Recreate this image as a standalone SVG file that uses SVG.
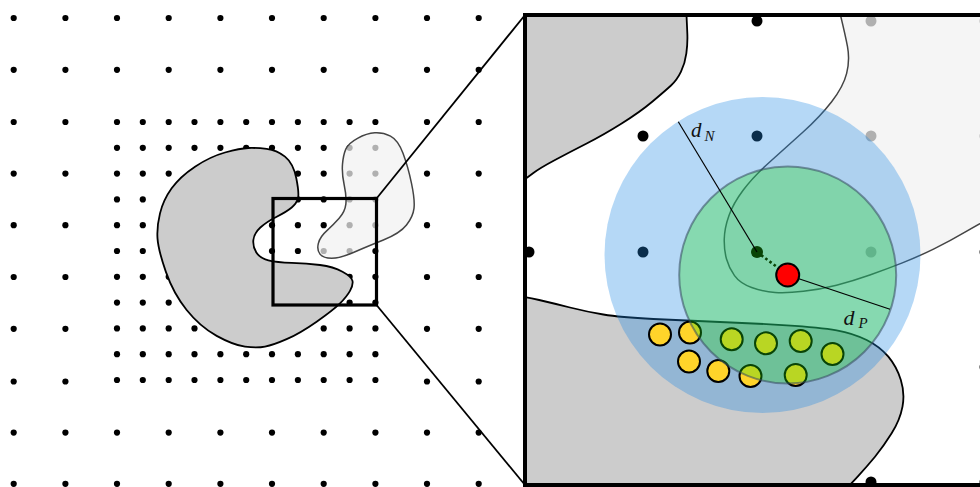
<svg xmlns="http://www.w3.org/2000/svg" xmlns:xlink="http://www.w3.org/1999/xlink" width="980" height="487" viewBox="0 0 980 487">
  <style>
    .dot { fill: #000; }
    .dark { fill: #cccccc; stroke: #000; stroke-width: 1.8; }
    .light { fill: #f1f1f1; fill-opacity: 0.73; stroke: #444; stroke-width: 1.5; }
    .conn { stroke: #000; stroke-width: 1.8; fill: none; }
    .small { fill: #ffd42a; stroke: #000; stroke-width: 2; }
    .math { font-family: "Liberation Serif", "DejaVu Serif", serif; font-style: italic; fill: #111; }
  </style>
  <defs>
    <!-- coarse grid row: 10 dots -->
    <g id="crow">
      <circle class="dot" cx="13.7" cy="0" r="3.1"/>
      <circle class="dot" cx="65.4" cy="0" r="3.1"/>
      <circle class="dot" cx="117" cy="0" r="3.1"/>
      <circle class="dot" cx="168.7" cy="0" r="3.1"/>
      <circle class="dot" cx="220.4" cy="0" r="3.1"/>
      <circle class="dot" cx="272" cy="0" r="3.1"/>
      <circle class="dot" cx="323.7" cy="0" r="3.1"/>
      <circle class="dot" cx="375.4" cy="0" r="3.1"/>
      <circle class="dot" cx="427" cy="0" r="3.1"/>
      <circle class="dot" cx="478.7" cy="0" r="3.1"/>
    </g>
    <!-- outer coarse dots beside the refined block -->
    <g id="orow">
      <circle class="dot" cx="13.7" cy="0" r="3.1"/>
      <circle class="dot" cx="65.4" cy="0" r="3.1"/>
      <circle class="dot" cx="427" cy="0" r="3.1"/>
      <circle class="dot" cx="478.7" cy="0" r="3.1"/>
    </g>
    <!-- refined grid row: 11 dots -->
    <g id="frow">
      <circle class="dot" cx="117" cy="0" r="3.1"/>
      <circle class="dot" cx="142.8" cy="0" r="3.1"/>
      <circle class="dot" cx="168.7" cy="0" r="3.1"/>
      <circle class="dot" cx="194.5" cy="0" r="3.1"/>
      <circle class="dot" cx="220.4" cy="0" r="3.1"/>
      <circle class="dot" cx="246.2" cy="0" r="3.1"/>
      <circle class="dot" cx="272" cy="0" r="3.1"/>
      <circle class="dot" cx="297.9" cy="0" r="3.1"/>
      <circle class="dot" cx="323.7" cy="0" r="3.1"/>
      <circle class="dot" cx="349.6" cy="0" r="3.1"/>
      <circle class="dot" cx="375.4" cy="0" r="3.1"/>
    </g>
    <!-- zoomed grid row -->
    <g id="zrow">
      <circle class="dot" cx="529" cy="0" r="5.5"/>
      <circle class="dot" cx="643" cy="0" r="5.5"/>
      <circle class="dot" cx="757" cy="0" r="5.5"/>
      <circle class="dot" cx="871" cy="0" r="5.5"/>
      <circle class="dot" cx="985" cy="0" r="5.5"/>
    </g>
    <clipPath id="panelClip">
      <rect x="525" y="15" width="470" height="470"/>
    </clipPath>
  </defs>

  <rect width="980" height="487" fill="#fff"/>

  <!-- overview: sample grid -->
  <g id="grid">
    <use xlink:href="#crow" y="18"/>
    <use xlink:href="#crow" y="69.8"/>
    <use xlink:href="#orow" y="122"/>
    <use xlink:href="#frow" y="122"/>
    <use xlink:href="#frow" y="147.8"/>
    <use xlink:href="#orow" y="173.6"/>
    <use xlink:href="#frow" y="173.6"/>
    <use xlink:href="#frow" y="199.4"/>
    <use xlink:href="#orow" y="225.2"/>
    <use xlink:href="#frow" y="225.2"/>
    <use xlink:href="#frow" y="251"/>
    <use xlink:href="#orow" y="277"/>
    <use xlink:href="#frow" y="276.8"/>
    <use xlink:href="#frow" y="302.6"/>
    <use xlink:href="#orow" y="328.8"/>
    <use xlink:href="#frow" y="328.4"/>
    <use xlink:href="#frow" y="354.2"/>
    <use xlink:href="#orow" y="381.5"/>
    <use xlink:href="#frow" y="380"/>
    <use xlink:href="#crow" y="432.6"/>
    <use xlink:href="#crow" y="483.8"/>
  </g>

  <!-- overview: obstacles -->
  <g id="obstacle-dark">
    <path class="dark" d="M248.35,148 Q256.7,147.7 266.7,148.85 Q276.7,150 285,156.65 Q293.3,163.3 296.3,178.3 Q299.3,193.3 298,198.3 Q296.7,203.3 291.7,207.5 Q286.7,211.7 276.7,216.7 Q266.7,221.7 260.35,227.5 Q254,233.3 253.35,240 Q252.7,246.7 256.35,252.5 Q260,258.3 268.35,260.3 Q276.7,262.3 291.7,262.8 Q306.7,263.3 320,265 Q333.3,266.7 342.5,271.7 Q351.7,276.7 352.5,280.85 Q353.3,285 350,290.85 Q346.7,296.7 340,303.35 Q333.3,310 316.65,321.65 Q300,333.3 286.65,339.15 Q273.3,345 265,346.65 Q256.7,348.3 245,346.65 Q233.3,345 216.65,335.85 Q200,326.7 186.65,310 Q173.3,293.3 165.8,271.65 Q158.3,250 157.5,238.35 Q156.7,226.7 160,213.35 Q163.3,200 171.65,188.35 Q180,176.7 195,166.7 Q210,156.7 225,152.5 Q240,148.3 248.35,148 Z"/>
  </g>
  <g id="obstacle-light">
    <path class="light" d="M345.8,149.15 Q348.3,143.3 357.5,138.3 Q366.7,133.3 374.85,132.8 Q383,132.3 390.5,136.15 Q398,140 403,153.35 Q408,166.7 411.5,183.35 Q415,200 414,208.35 Q413,216.7 406.5,225 Q400,233.3 383.35,240 Q366.7,246.7 353.35,252.5 Q340,258.3 331.65,258.3 Q323.3,258.3 320,254.15 Q316.7,250 318.35,243.35 Q320,236.7 326.65,230.85 Q333.3,225 339.15,218.35 Q345,211.7 345.85,204.2 Q346.7,196.7 344.2,185 Q341.7,173.3 342.5,164.15 Q343.3,155 345.8,149.15 Z"/>
  </g>

  <!-- zoom window and its projection lines -->
  <g id="zoom-window">
    <rect x="273" y="198.5" width="103.5" height="106.5" fill="none" stroke="#000" stroke-width="3.2"/>
  </g>
  <g id="connectors">
    <line class="conn" x1="376.5" y1="198.5" x2="525" y2="15"/>
    <line class="conn" x1="376.5" y1="305" x2="525" y2="485"/>
  </g>

  <!-- detail panel -->
  <g id="detail" clip-path="url(#panelClip)">
    <rect x="525" y="15" width="470" height="470" fill="#fff"/>
    <g id="detail-grid">
      <use xlink:href="#zrow" y="21"/>
      <use xlink:href="#zrow" y="136"/>
      <use xlink:href="#zrow" y="252"/>
      <use xlink:href="#zrow" y="367"/>
      <use xlink:href="#zrow" y="482"/>
    </g>
    <path class="dark" stroke-width="2" d="M686,5 Q687,25 687.35,34.15 Q687.7,43.3 686.35,53.3 Q685,63.3 681,71.65 Q677,80 671,85.5 Q665,91 652.5,101.5 Q640,112 621.65,123.5 Q603.3,135 586.65,143.5 Q570,152 555,160 Q540,168 533.35,173 Q526.7,178 520.85,182 L515,186 L515,5 Z"/>
    <path class="dark" stroke-width="2" d="M515,296 Q525,296.7 539.15,300 Q553.3,303.3 570,307.5 Q586.7,311.7 603.35,314.5 Q620,317.3 653.35,319 Q686.7,320.7 720,322 Q753.3,323.3 786.65,325.3 Q820,327.3 836.65,330.3 Q853.3,333.3 866.65,340 Q880,346.7 888.35,356.7 Q896.7,366.7 900.85,380 Q905,393.3 902.5,406.65 Q900,420 891.65,433.35 Q883.3,446.7 875,456.7 Q866.7,466.7 858.35,475.85 Q850,485 838,497 L515,497 Z"/>
    <path class="light" d="M838,5 Q845,33.3 847.5,46.65 Q850,60 846.65,73.35 Q843.3,86.7 831.65,101.7 Q820,116.7 803.35,131.7 Q786.7,146.7 770,161.7 Q753.3,176.7 743.3,190 Q733.3,203.3 728.9,215.65 Q724.5,228 724.25,239 Q724,250 726.5,259 Q729,268 734.5,275.65 Q740,283.3 751.65,287.5 Q763.3,291.7 775,292.5 Q786.7,293.3 803.35,291.3 Q820,289.3 836.5,285.15 Q853,281 869.85,275 Q886.7,269 902.35,262.85 Q918,256.7 934,248.85 Q950,241 965,232.15 Q980,223.3 1005,210 L1005,5 Z"/>

    <!-- neighbourhood radius d_N -->
    <circle id="range-n" cx="762.5" cy="255" r="158" fill="#1e88e5" fill-opacity="0.33"/>

    <!-- link from nearest grid node to query point -->
    <g id="node">
      <line x1="757" y1="252" x2="787.7" y2="275" stroke="#000" stroke-width="2.6" stroke-dasharray="2.6 2.6"/>
      <circle cx="757" cy="252" r="6" fill="#000"/>
    </g>

    <!-- boundary samples -->
    <g id="samples">
      <circle class="small" cx="660" cy="334.5" r="11"/>
      <circle class="small" cx="690" cy="332.5" r="11"/>
      <circle class="small" cx="689" cy="361.5" r="11"/>
      <circle class="small" cx="718.3" cy="371" r="11"/>
      <circle class="small" cx="750.5" cy="376" r="11"/>
      <circle class="small" cx="731.7" cy="339.3" r="11"/>
      <circle class="small" cx="766" cy="343.3" r="11"/>
      <circle class="small" cx="800.7" cy="341" r="11"/>
      <circle class="small" cx="832.5" cy="354" r="11"/>
      <circle class="small" cx="795.7" cy="375" r="11"/>
    </g>

    <!-- query radius d_P -->
    <circle id="range-p" cx="787.7" cy="275" r="108.5" fill="#1edc14" fill-opacity="0.31" stroke="#34495e" stroke-opacity="0.55" stroke-width="2"/>

    <g id="radii">
      <line x1="757" y1="252" x2="678.3" y2="121.7" stroke="#000" stroke-width="1.2"/>
      <line x1="787.7" y1="275" x2="890" y2="309.3" stroke="#000" stroke-width="1.2"/>
    </g>

    <g id="query">
      <circle cx="787.7" cy="275" r="11.5" fill="#ff0000" stroke="#000" stroke-width="2"/>
    </g>

    <g id="labels">
      <text class="math" x="691" y="136.7" font-size="21">d<tspan x="704.5" y="140.8" font-size="15">N</tspan></text>
      <text class="math" x="843.5" y="325" font-size="22">d<tspan x="858.5" y="327.8" font-size="15">P</tspan></text>
    </g>
  </g>
  <rect id="panel-frame" x="525" y="15" width="470" height="470" fill="none" stroke="#000" stroke-width="4"/>
</svg>
